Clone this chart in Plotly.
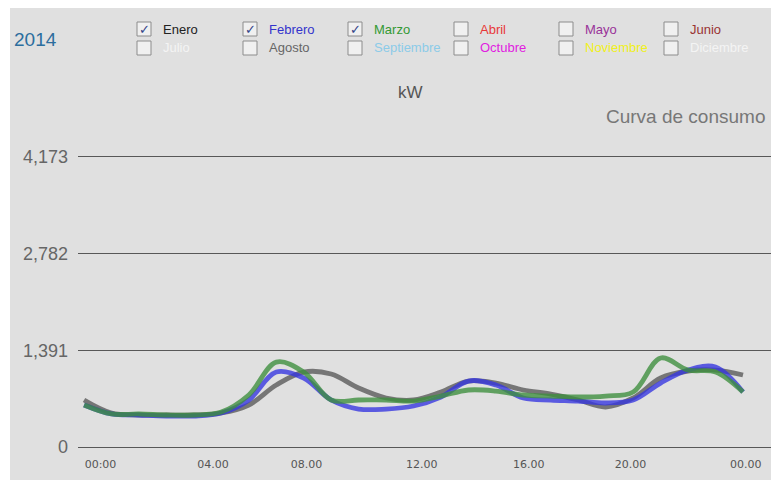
import plotly.graph_objects as go

# hours of the day (0..24) and the three checked months, in kW
horas = list(range(25))
enero = [676, 489, 460, 460, 460, 489, 604, 892, 1078, 1050, 848, 705, 676,
         791, 949, 920, 820, 762, 676, 575, 705, 992, 1093, 1107, 1035]
febrero = [604, 475, 460, 446, 446, 489, 676, 1078, 992, 676, 546, 546, 590,
           719, 949, 892, 705, 676, 661, 633, 676, 920, 1107, 1150, 791]
marzo = [604, 475, 475, 460, 460, 503, 748, 1220, 1078, 676, 676, 676, 661,
         733, 820, 805, 748, 733, 719, 733, 791, 1280, 1107, 1078, 791]

y_ticks = [0, 1391, 2782, 4173]
y_ticktext = ["0", "1,391", "2,782", "4,173"]
x_ticks = [0.6, 4.7, 8.1, 12.3, 16.2, 19.9, 24.1]
x_ticktext = ["00:00", "04.00", "08.00", "12.00", "16.00", "20.00", "00.00"]

meses = ["Enero", "Febrero", "Marzo", "Abril", "Mayo", "Junio",
         "Julio", "Agosto", "Septiembre", "Octubre", "Noviembre", "Diciembre"]
colores_mes = ["#222222", "#3333cc", "#339933", "#e83838", "#993399", "#993333",
               "#f4f4f4", "#666666", "#8ccbe8", "#e020e0", "#f0f020", "#f4f4f4"]
marcados = [True, True, True] + [False] * 9

# plot area in window pixels
L, T, W, H = 78, 150, 771 - 78, 300


def px(x):
    return (x - L) / W


def py(y):
    return (T + H - y) / H


fig = go.Figure()
series = [("Enero", enero, "#595959"), ("Febrero", febrero, "#3535e0"),
          ("Marzo", marzo, "#3d8f3d")]
for nombre, vals, col in series:
    fig.add_trace(go.Scatter(x=horas, y=vals, name=nombre, mode="lines",
                             line=dict(color=col, width=4.8, shape="spline", smoothing=1),
                             opacity=0.78))

shapes = []
annotations = [
    dict(text="2014", x=px(12), y=py(40), xanchor="left", yanchor="middle",
         font=dict(size=19, color="#2c6e9e", family="Liberation Sans")),
    dict(text="kW", x=px(410), y=py(92), xanchor="center", yanchor="middle",
         font=dict(size=17, color="#555555", family="Liberation Sans")),
    dict(text="Curva de consumo", x=px(767), y=py(116), xanchor="right", yanchor="middle",
         font=dict(size=19, color="#777777", family="Liberation Sans")),
]
cols_x = [137, 243, 348, 454, 559, 664]
rows_y = [29, 48]
for i, m in enumerate(meses):
    bx, by = cols_x[i % 6], rows_y[i // 6]
    shapes.append(dict(type="rect", xref="paper", yref="paper",
                       x0=px(bx), x1=px(bx + 14), y0=py(by + 7), y1=py(by - 7),
                       fillcolor="#f0f0f0", line=dict(color="#8c8c8c", width=1)))
    if marcados[i]:
        annotations.append(dict(text="✓", x=px(bx + 7), y=py(by), xanchor="center",
                                yanchor="middle", font=dict(size=13, color="#334488",
                                                            family="DejaVu Sans")))
    annotations.append(dict(text=m, x=px(bx + 24), y=py(by), xanchor="left", yanchor="middle",
                            font=dict(size=13, color=colores_mes[i], family="Liberation Sans")))
for a in annotations:
    a.update(xref="paper", yref="paper", showarrow=False)

fig.update_layout(
    width=771, height=480,
    margin=dict(l=L, r=0, t=T, b=480 - T - H),
    paper_bgcolor="#e0e0e0", plot_bgcolor="#e0e0e0",
    showlegend=False, shapes=shapes, annotations=annotations,
    xaxis=dict(range=[-0.22, 25.02], tickvals=x_ticks, ticktext=x_ticktext,
               showgrid=False, zeroline=False, showline=False, ticks="",
               ticklabelstandoff=6,
               tickfont=dict(size=11, color="#555555", family="DejaVu Sans")),
    yaxis=dict(range=[-43, 4271], tickvals=y_ticks, ticktext=y_ticktext,
               showgrid=True, gridcolor="#585858", gridwidth=1, zeroline=False,
               showline=False, ticks="", ticklabelstandoff=9,
               tickfont=dict(size=18, color="#666666", family="Liberation Sans")),
)
# white strips on top and left edge, as in the screenshot
fig.add_shape(type="rect", xref="paper", yref="paper", x0=px(0), x1=1.01,
              y0=py(8), y1=py(0), fillcolor="white", line_width=0, layer="below")
fig.add_shape(type="rect", xref="paper", yref="paper", x0=px(0), x1=px(10),
              y0=py(500), y1=py(0), fillcolor="white", line_width=0, layer="below")

# drop the default 8px page margin so the figure fills the window exactly
fig.write_html("out.html", config={"displayModeBar": False},
               post_script="document.body.style.margin='0';"
                           "document.body.style.overflow='hidden';"
                           "document.body.style.background='#e0e0e0';")
